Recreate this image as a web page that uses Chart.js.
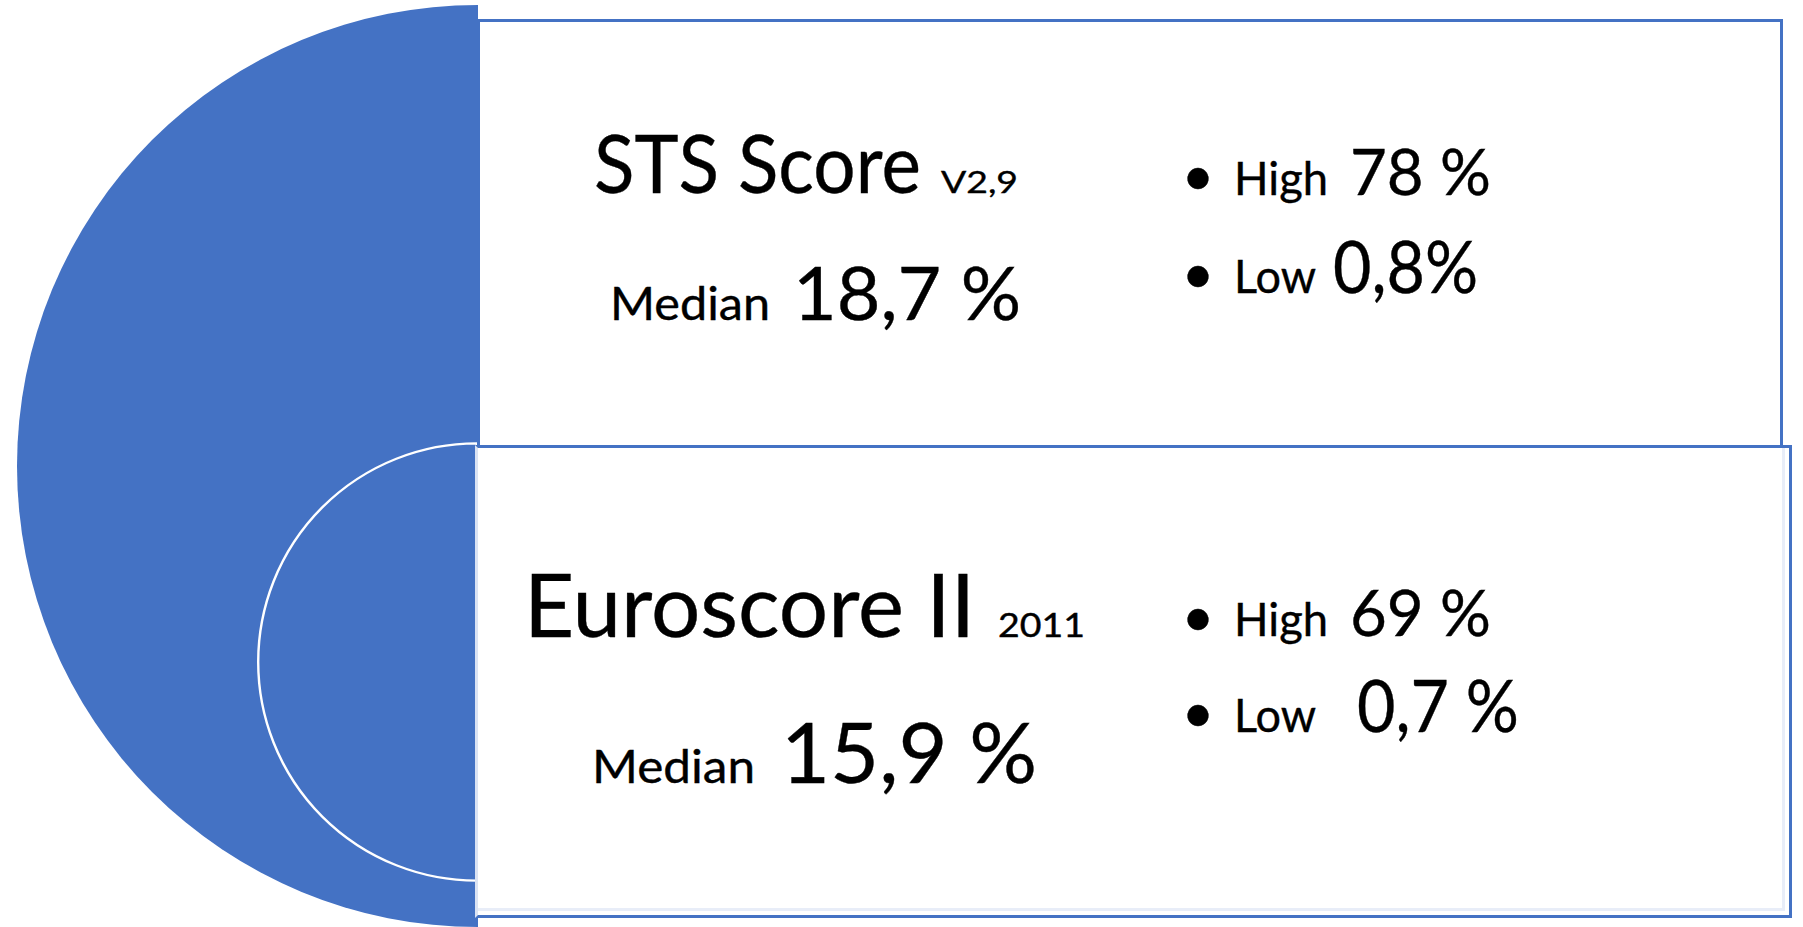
<!DOCTYPE html>
<html>
<head>
<meta charset="utf-8">
<title>STS Score / Euroscore II</title>
<script src="https://cdn.jsdelivr.net/npm/chart.js"></script>
<style>
    html, body { margin: 0; padding: 0; background: #fff; }
    body { position: relative; width: 1803px; height: 927px; overflow: hidden;
           font-family: Lato, Carlito, "Open Sans", sans-serif; color: #000; }
    canvas { position: absolute; }
    .box { position: absolute; box-sizing: border-box; border: 3px solid #4472c4; background: #fff; }
    .box.lower { border-left-color: #dbe3f3;
                 box-shadow: inset -4px -4px 0 0 #fff, inset -7px -7px 0 0 #e8edf8; }
    .txt { position: absolute; white-space: nowrap; line-height: 1; transform-origin: 0 0;
           -webkit-text-stroke: 0.4px #000; }
    .mark { display: inline-block; width: 0; height: 0; }
</style>
</head>
<body>
<canvas id="outer" width="461" height="922" style="left:17px;top:5px"></canvas>
<canvas id="inner" width="221" height="442" style="left:257px;top:441px"></canvas>
<div class="box" style="left:477px;top:19px;width:1306px;height:429px"></div>
<div class="box lower" style="left:475px;top:445px;width:1317px;height:473px"></div>
<script>
    // values
    const scoreNames = ['STS Score', 'Euroscore II'];
    const scoreVersions = ['V2,9', '2011'];
    const medianValues = [18.7, 15.9];
    const medianLabels = ['18,7 %', '15,9 %'];
    const highLabels = ['78 %', '69 %'];
    const lowLabels = ['0,8%', '0,7 %'];

    // where each piece of text goes: [left, right, baseline, font size]
    const layout = [
        {
            name: [594, 921, 192.5, 80.5],
            version: [941, 1018, 192.5, 31],
            median: [610, 770, 320, 46.5],
            medianValue: [793, 1021, 320, 74],
            bullets: [[1198, 0, 195, 56], [1198, 0, 293, 56]],
            high: [1234, 1328, 195, 46.5],
            highValue: [1350, 1491, 195, 63],
            low: [1234, 1316, 293, 46.5],
            lowValue: [1333, 1478, 293, 72.5],
        },
        {
            name: [524, 975, 637, 87],
            version: [998, 1085, 637, 32],
            median: [592, 755, 782.5, 45.6],
            medianValue: [781, 1037, 782.5, 83],
            bullets: [[1198, 0, 635.5, 56], [1198, 0, 732, 56]],
            high: [1234, 1328, 635.5, 46.5],
            highValue: [1350, 1491, 635.5, 63],
            low: [1234, 1316, 732, 46.5],
            lowValue: [1357, 1519, 732, 72.5],
        },
    ];

    /**
     * Half disc, left side, drawn as a one-slice pie.
     */
    function halfDisc(id, label, value, border) {
        return new Chart(document.getElementById(id), {
            type: 'pie',
            data: {
                labels: [label],
                datasets: [{
                    data: [value],
                    backgroundColor: '#4472c4',
                    borderColor: '#ffffff',
                    borderWidth: border,
                    hoverOffset: 0,
                }],
            },
            options: {
                responsive: false,
                animation: false,
                events: [],
                rotation: 180,
                circumference: 180,
                layout: { padding: 0 },
                plugins: {
                    legend: { display: false },
                    tooltip: { enabled: false },
                },
            },
        });
    }

    /**
     * Put one piece of text so that its baseline sits on pos[2].
     */
    function place(text, pos, centered) {
        let [left, right, base, size] = pos;
        let el = document.createElement('div');
        el.className = 'txt';
        el.style.fontSize = size + 'px';
        el.textContent = text;
        let mark = document.createElement('i');
        mark.className = 'mark';
        el.appendChild(mark);
        document.body.appendChild(el);

        let w = el.getBoundingClientRect().width;
        if (centered) {
            el.style.left = (left - w / 2) + 'px';
        } else {
            el.style.left = left + 'px';
            el.style.transform = 'scaleX(' + ((right - left) / w).toFixed(3) + ')';
        }
        el.style.top = (base - mark.offsetTop) + 'px';
    }

    halfDisc('outer', scoreNames[0], medianValues[0], 0);
    halfDisc('inner', scoreNames[1], medianValues[1], 2.4);

    scoreNames.forEach((name, i) => {
        let l = layout[i];
        place(name, l.name);
        place(scoreVersions[i], l.version);
        place('Median', l.median);
        place(medianLabels[i], l.medianValue);
        l.bullets.forEach(b => place('\u2022', b, true));
        place('High', l.high);
        place(highLabels[i], l.highValue);
        place('Low', l.low);
        place(lowLabels[i], l.lowValue);
    });
</script>
</body>
</html>
